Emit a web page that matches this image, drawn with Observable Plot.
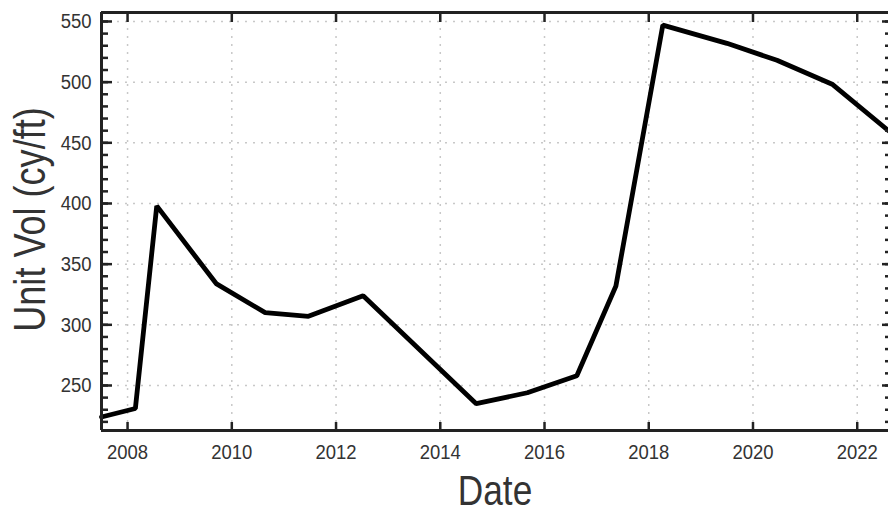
<!DOCTYPE html>
<html>
<head>
<meta charset="utf-8">
<script src="https://cdn.jsdelivr.net/npm/d3@7"></script>
<script src="https://cdn.jsdelivr.net/npm/@observablehq/plot@0.6"></script>
<style>
  html, body { margin: 0; padding: 0; background: #fff; }
  #chart svg { display: block; }
</style>
</head>
<body>
<div id="chart"></div>
<script>
// Data
const years = [2007.5, 2008.15, 2008.56, 2009.7, 2010.64, 2011.47, 2012.52, 2014.69, 2015.67, 2016.62, 2017.37, 2018.27, 2019.5, 2020.46, 2021.53, 2022.6];
const unitVol = [224, 231, 398, 334, 310, 307, 324, 235, 244, 258, 332, 547, 532, 518, 498, 460];
const xTicks = [2008, 2010, 2012, 2014, 2016, 2018, 2020, 2022];
const yTicks = [250, 300, 350, 400, 450, 500, 550];
const yMinorTicks = d3.range(220, 560, 10);
const xLabel = "Date";
const yLabel = "Unit Vol (cy/ft)";

const data = years.map((x, i) => ({x, y: unitVol[i]}));
const xDomain = [2007.5, 2022.6];
const yDomain = [212.9, 557.4];
const frameColor = "#222";
const font = "'Liberation Sans', Arial, Helvetica, sans-serif";

const chart = Plot.plot({
  width: 888,
  height: 516,
  marginLeft: 101,
  marginRight: 0,
  marginTop: 12,
  marginBottom: 86,
  style: {fontFamily: font, color: "#333", background: "#fff", overflow: "visible"},
  x: {domain: xDomain},
  y: {domain: yDomain},
  marks: [
    Plot.gridX(xTicks, {stroke: "#c8c8c8", strokeOpacity: 1, strokeWidth: 1.5, strokeDasharray: "2,6"}),
    Plot.gridY(yTicks, {stroke: "#c8c8c8", strokeOpacity: 1, strokeWidth: 1.5, strokeDasharray: "2,6"}),
    Plot.line(data, {x: "x", y: "y", stroke: "#000", strokeWidth: 4.8, strokeLinejoin: "miter"}),
    // frame lines (left, top, bottom)
    Plot.ruleX([xDomain[0]], {stroke: frameColor, strokeWidth: 3}),
    Plot.ruleY([yDomain[0], yDomain[1]], {stroke: frameColor, strokeWidth: 3}),
    // inward ticks
    Plot.axisX(xTicks, {anchor: "top", frameAnchor: "bottom", tickSize: 9, strokeWidth: 2.5, stroke: frameColor, fill: "none", label: null}),
    Plot.axisX(xTicks, {anchor: "bottom", frameAnchor: "top", tickSize: 10, strokeWidth: 2.5, stroke: frameColor, fill: "none", label: null}),
    Plot.axisY(yMinorTicks, {anchor: "right", frameAnchor: "left", tickSize: 6, strokeWidth: 2.5, stroke: frameColor, fill: "none", label: null}),
    Plot.axisY(yTicks, {anchor: "right", frameAnchor: "left", tickSize: 10, strokeWidth: 2.5, stroke: frameColor, fill: "none", label: null}),
    Plot.axisY(yMinorTicks, {anchor: "left", frameAnchor: "right", tickSize: 3, strokeWidth: 2.5, stroke: frameColor, fill: "none", label: null}),
    Plot.axisY(yTicks, {anchor: "left", frameAnchor: "right", tickSize: 6, strokeWidth: 2.5, stroke: frameColor, fill: "none", label: null}),
    // tick labels
    Plot.axisX(xTicks, {anchor: "bottom", tickSize: 0, tickPadding: 14, fontSize: 21, fill: "#333", tickFormat: d3.format("d"), label: null}),
    Plot.axisY(yTicks, {anchor: "left", tickSize: 0, tickPadding: 10, fontSize: 21, fill: "#333", tickFormat: d3.format("d"), label: null}),
    // axis titles
    Plot.text([yLabel], {frameAnchor: "left", textAnchor: "middle", lineAnchor: "middle", rotate: -90, dx: -71, dy: -2, fontSize: 44, fill: "#333", text: d => d}),
    Plot.text([xLabel], {frameAnchor: "bottom", textAnchor: "middle", lineAnchor: "middle", dy: 61, fontSize: 43, fill: "#333", text: d => d})
  ]
});
document.getElementById("chart").appendChild(chart);

// Narrow the glyphs horizontally (reference uses a condensed sans face)
d3.select(chart).selectAll("text").each(function() {
  const size = parseFloat(getComputedStyle(this).fontSize);
  const s = size >= 30 ? 0.82 : 0.88;
  let t = this.getAttribute("transform");
  if (!t) {
    const x = +this.getAttribute("x") || 0, y = +this.getAttribute("y") || 0;
    this.removeAttribute("x"); this.removeAttribute("y");
    t = `translate(${x},${y})`;
  }
  this.setAttribute("transform", `${t} scale(${s},1)`);
});
</script>
</body>
</html>
